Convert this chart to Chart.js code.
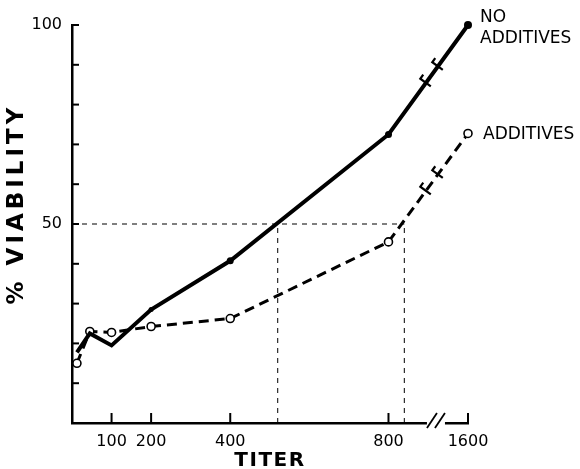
<!DOCTYPE html>
<html>
<head>
<meta charset="utf-8">
<script src="https://cdn.jsdelivr.net/npm/chart.js@4.4.0/dist/chart.umd.min.js"></script>
<style>
  body { margin: 0; background: #fff; }
  canvas { display: block; }
</style>
</head>
<body>
<canvas id="chart" width="580" height="469"></canvas>
<script>
// titer values (shared by both curves)
const titers = [12.5, 45, 100, 200, 400, 800, 1600];
const noAdditives = [17.75, 22.5, 19.5, 28.5, 40.75, 72.5, 100];
const additives = [15, 23, 22.75, 24.25, 26.25, 45.5, 72.75];

const xTickTiters = [100, 200, 400, 800, 1600];
const yLabelled = [50, 100];

// 50% viability guide lines
const halfViability = 50;
const titer50NoAdd = 520;
const titer50Add = 840;

// broken axis: everything past BREAK is squeezed
const BREAK = 900;
const SQUEEZE = 101 / 700;
const xPos = t => t <= BREAK ? t : BREAK + (t - BREAK) * SQUEEZE;

const toPts = ys => titers.map((t, i) => ({ x: xPos(t), y: ys[i] }));

const FONT = 'DejaVu Sans';

const extras = {
  id: 'extras',
  afterDatasetsDraw(chart) {
    const { ctx, chartArea: a, scales: { x, y } } = chart;
    ctx.save();
    ctx.strokeStyle = '#000';
    ctx.fillStyle = '#000';

    // inward ticks
    ctx.lineWidth = 2;
    for (let v = 10; v <= 100; v += 10) {
      const py = y.getPixelForValue(v);
      ctx.beginPath(); ctx.moveTo(a.left, py); ctx.lineTo(a.left + 7, py); ctx.stroke();
    }
    xTickTiters.forEach(t => {
      const px = x.getPixelForValue(xPos(t));
      ctx.beginPath(); ctx.moveTo(px, a.bottom); ctx.lineTo(px, a.bottom - 10); ctx.stroke();
    });

    // x axis break //
    const bx = x.getPixelForValue(BREAK + 20);
    ctx.fillStyle = '#fff';
    ctx.fillRect(bx - 9, a.bottom - 3, 18, 6);
    ctx.fillStyle = '#000';
    ctx.lineWidth = 1.8;
    [[-9, -1], [-1, 7]].forEach(([x0, x1]) => {
      ctx.beginPath(); ctx.moveTo(bx + x0, a.bottom + 5); ctx.lineTo(bx + x1 + 2, a.bottom - 10); ctx.stroke();
    });

    // break marks on both curves (little hooks across the line)
    [0, 1].forEach(di => {
      const pts = chart.getDatasetMeta(di).data;
      const p0 = pts[5], p1 = pts[6];
      const dx = p1.x - p0.x, dy = p1.y - p0.y, len = Math.hypot(dx, dy);
      const ux = dx / len, uy = dy / len, nx = -uy, ny = ux;
      [bx - 10, bx + 2].forEach(mx => {
        const f = (mx - p0.x) / dx;
        const cx = p0.x + dx * f, cy = p0.y + dy * f;
        ctx.lineWidth = 2.2;
        ctx.beginPath();
        ctx.moveTo(cx - nx * 7 + ux * 5, cy - ny * 7 + uy * 5);
        ctx.lineTo(cx - nx * 7, cy - ny * 7);
        ctx.lineTo(cx + nx * 6, cy + ny * 6);
        ctx.stroke();
      });
    });

    // curve labels
    const end0 = chart.getDatasetMeta(0).data[6];
    const end1 = chart.getDatasetMeta(1).data[6];
    ctx.font = '17px ' + FONT;
    ctx.textAlign = 'left';
    ctx.textBaseline = 'alphabetic';
    ctx.fillText('NO', end0.x + 12, end0.y - 3);
    ctx.fillText('ADDITIVES', end0.x + 12, end0.y + 18);
    ctx.fillText('ADDITIVES', end1.x + 15, end1.y + 6);

    // axis titles
    ctx.font = 'bold 20px ' + FONT;
    ctx.letterSpacing = '1.5px';
    ctx.textAlign = 'center';
    ctx.textBaseline = 'middle';
    ctx.fillText('TITER', 270, 461);
    ctx.save();
    ctx.translate(17, 204);
    ctx.rotate(-Math.PI / 2);
    ctx.font = 'bold 23px ' + FONT;
    ctx.letterSpacing = '4px';
    ctx.fillText('% VIABILITY', 0, 0);
    ctx.restore();
    ctx.restore();
  }
};

const guide = pts => ({
  data: pts,
  borderColor: '#000',
  borderWidth: 1,
  borderDash: [5, 5],
  pointRadius: 0,
  fill: false
});

new Chart(document.getElementById('chart'), {
  type: 'line',
  data: {
    datasets: [
      {
        data: toPts(noAdditives),
        borderColor: '#000',
        borderWidth: 4,
        pointRadius: [0, 0, 0, 2.5, 3.5, 3.5, 4],
        pointBackgroundColor: '#000',
        pointBorderWidth: 0,
        clip: false
      },
      {
        data: toPts(additives),
        borderColor: '#000',
        borderWidth: 3,
        borderDash: [10, 6],
        pointRadius: 4,
        pointBackgroundColor: '#fff',
        pointBorderColor: '#000',
        pointBorderWidth: 1.6,
        clip: false
      },
      guide([{ x: 0, y: halfViability }, { x: titer50Add, y: halfViability }]),
      guide([{ x: titer50NoAdd, y: 0 }, { x: titer50NoAdd, y: halfViability }]),
      guide([{ x: titer50Add, y: 0 }, { x: titer50Add, y: halfViability }])
    ]
  },
  options: {
    responsive: false,
    animation: false,
    layout: { padding: { left: 0, right: 112, top: 25, bottom: 0 } },
    elements: { line: { tension: 0 } },
    plugins: { legend: { display: false }, tooltip: { enabled: false } },
    scales: {
      x: {
        type: 'linear',
        min: 0,
        max: xPos(1600),
        grid: { display: false, drawTicks: false },
        border: { display: true, color: '#000', width: 2.5 },
        afterBuildTicks: s => { s.ticks = xTickTiters.map(t => ({ value: xPos(t) })); },
        afterFit: s => { s.height = 46; },
        ticks: {
          autoSkip: false,
          maxRotation: 0,
          padding: 9,
          color: '#000',
          font: { family: FONT, size: 16 },
          callback: (v, i) => String(xTickTiters[i])
        }
      },
      y: {
        min: 0,
        max: 100,
        grid: { display: false, drawTicks: false },
        border: { display: true, color: '#000', width: 2.5 },
        afterFit: s => { s.width = 72; },
        ticks: {
          stepSize: 10,
          autoSkip: false,
          padding: 10,
          color: '#000',
          font: { family: FONT, size: 16 },
          callback: v => yLabelled.includes(v) ? String(v) : ''
        }
      }
    }
  },
  plugins: [extras]
});
</script>
</body>
</html>
